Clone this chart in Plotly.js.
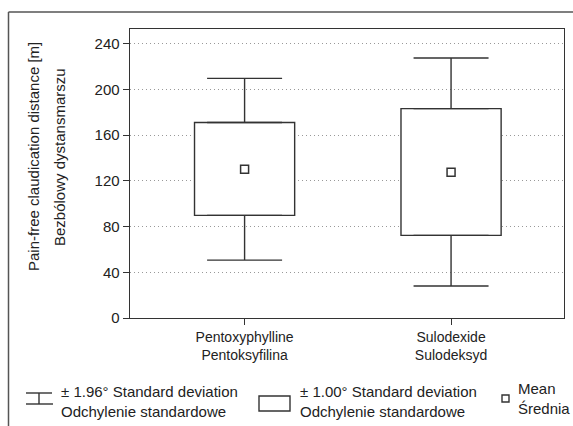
<!DOCTYPE html>
<html>
<head>
<meta charset="utf-8">
<script src="https://cdn.plot.ly/plotly-3.0.1.min.js"></script>
<style>html,body{margin:0;padding:0;background:#fff;}#chart{width:573px;height:426px;}</style>
</head>
<body>
<div id="chart"></div>
<script>
// ---- data ----
const categories = ["Pentoxyphylline<br>Pentoksyfilina", "Sulodexide<br>Sulodeksyd"];
const means      = [130.2, 127.6];
const sd1Low     = [89.8, 72.3];
const sd1High    = [171.1, 183.3];
const sd196Low   = [50.7, 28.0];
const sd196High  = [209.8, 227.6];
const yTicks     = [0, 40, 80, 120, 160, 200, 240];

// ---- layout helpers ----
const W = 573, H = 426;
const M = {l: 130, r: 9, t: 29, b: 108};
const PW = W - M.l - M.r, PH = H - M.t - M.b;
const px = x => (x - M.l) / PW;
const py = y => (H - M.b - y) / PH;

const FONT = "'Liberation Sans', Arial, sans-serif";
const INK = "#333";
const TXT = "#222";

// ±1 SD box as a floating bar
const boxTrace = {
  type: "bar",
  x: categories,
  base: sd1Low,
  y: sd1High.map((h, i) => h - sd1Low[i]),
  width: 0.485,
  marker: {color: "#ffffff", line: {color: INK, width: 1.4}},
  hoverinfo: "skip",
  showlegend: false
};

// ±1.96 SD whiskers as error bars from box edges
const upperWhisker = {
  type: "scatter", mode: "markers",
  x: categories, y: sd1High,
  marker: {size: 1, opacity: 0},
  error_y: {type: "data", symmetric: false,
            array: sd196High.map((v, i) => v - sd1High[i]),
            arrayminus: sd1High.map(() => 0),
            color: INK, thickness: 1.4, width: 37.5},
  hoverinfo: "skip", showlegend: false
};
const lowerWhisker = {
  type: "scatter", mode: "markers",
  x: categories, y: sd1Low,
  marker: {size: 1, opacity: 0},
  error_y: {type: "data", symmetric: false,
            array: sd1Low.map(() => 0),
            arrayminus: sd1Low.map((v, i) => v - sd196Low[i]),
            color: INK, thickness: 1.4, width: 37.5},
  hoverinfo: "skip", showlegend: false
};

const meanTrace = {
  type: "scatter",
  mode: "markers",
  x: categories,
  y: means,
  marker: {symbol: "square", size: 8, color: "#ffffff", line: {color: INK, width: 1.5}},
  showlegend: false,
  hoverinfo: "skip"
};

const shapes = [
  // outer frame (top and left)
  {type: "line", xref: "paper", yref: "paper", x0: px(8.5), x1: px(580), y0: py(12), y1: py(12), line: {color: "#555", width: 1.5}},
  {type: "line", xref: "paper", yref: "paper", x0: px(8.5), x1: px(8.5), y0: py(12), y1: py(440), line: {color: "#555", width: 1.5}},
  // legend icon: whisker
  {type: "line", xref: "paper", yref: "paper", x0: px(26), x1: px(52), y0: py(393), y1: py(393), line: {color: INK, width: 1.4}},
  {type: "line", xref: "paper", yref: "paper", x0: px(26), x1: px(53), y0: py(404), y1: py(404), line: {color: INK, width: 1.4}},
  {type: "line", xref: "paper", yref: "paper", x0: px(39), x1: px(39), y0: py(393), y1: py(404), line: {color: INK, width: 1.4}},
  // legend icon: box
  {type: "rect", xref: "paper", yref: "paper", x0: px(259), x1: px(290), y0: py(396), y1: py(411), line: {color: INK, width: 1.4}, fillcolor: "#fff"},
  // legend icon: mean square
  {type: "rect", xref: "paper", yref: "paper", x0: px(502), x1: px(509), y0: py(395), y1: py(402), line: {color: INK, width: 1.4}, fillcolor: "#fff"}
];

const annFont = {family: FONT, size: 15, color: TXT};
const titleFont = {family: FONT, size: 15, color: TXT};
const annotations = [
  {xref: "paper", yref: "paper", x: px(33), y: py(157), text: "Pain-free claudication distance [m]", textangle: -90, showarrow: false, font: titleFont, xanchor: "center", yanchor: "middle"},
  {xref: "paper", yref: "paper", x: px(59), y: py(157), text: "Bezbólowy dystansmarszu", textangle: -90, showarrow: false, font: titleFont, xanchor: "center", yanchor: "middle"},
  {xref: "paper", yref: "paper", x: px(59), y: py(401), text: "± 1.96° Standard deviation<br>Odchylenie standardowe", showarrow: false, font: annFont, xanchor: "left", yanchor: "middle", align: "left"},
  {xref: "paper", yref: "paper", x: px(298), y: py(401), text: "± 1.00° Standard deviation<br>Odchylenie standardowe", showarrow: false, font: annFont, xanchor: "left", yanchor: "middle", align: "left"},
  {xref: "paper", yref: "paper", x: px(516), y: py(398), text: "Mean<br>Średnia", showarrow: false, font: annFont, xanchor: "left", yanchor: "middle", align: "left"}
];

const layout = {
  width: W, height: H,
  margin: M,
  paper_bgcolor: "#fff", plot_bgcolor: "#fff",
  showlegend: false,
  barmode: "overlay",
  font: {family: FONT, size: 15, color: TXT},
  xaxis: {
    type: "category",
    range: [-0.555, 1.547],
    showgrid: false, zeroline: false,
    showline: true, linecolor: INK, linewidth: 1.4, mirror: true,
    ticks: "outside", ticklen: 6, tickcolor: INK, tickwidth: 1,
    tickfont: {family: FONT, size: 14, color: TXT}
  },
  yaxis: {
    range: [0, 253],
    tickvals: yTicks,
    showgrid: true, gridcolor: "#999", griddash: "1px,3px", gridwidth: 1,
    zeroline: false,
    showline: true, linecolor: INK, linewidth: 1.4, mirror: true,
    ticks: "outside", ticklen: 6, tickcolor: INK, tickwidth: 1,
    tickfont: {family: FONT, size: 15, color: TXT}
  },
  shapes: shapes,
  annotations: annotations
};

Plotly.newPlot("chart", [boxTrace, upperWhisker, lowerWhisker, meanTrace], layout, {staticPlot: true, displayModeBar: false});
</script>
</body>
</html>
